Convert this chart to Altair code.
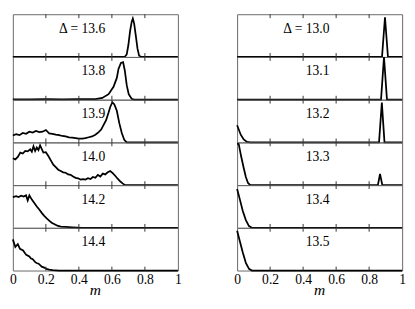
import altair as alt
import pandas as pd

FONT = "Liberation Serif, Times New Roman, serif"
W, H = 170, 44
TICKS = [0, 0.2, 0.4, 0.6, 0.8, 1]
INNER_TICKS = [0.2, 0.4, 0.6, 0.8]
LABEL_X = 0.56
X_TITLE = "m"

left_labels = ["Δ = 13.6", "13.8", "13.9", "14.0", "14.2", "14.4"]
right_labels = ["Δ = 13.0", "13.1", "13.2", "13.3", "13.4", "13.5"]

# ---- left column (Δ = 13.6 ... 14.4) ----
m_136 = [0, 0.66, 0.68, 0.69, 0.70, 0.71, 0.72, 0.727, 0.735, 0.745, 0.755, 0.765, 0.78, 1]
p_136 = [0, 0, 0.01, 0.06, 0.28, 0.60, 0.82, 0.90, 0.78, 0.50, 0.20, 0.03, 0, 0]

m_138 = [0, 0.1, 0.2, 0.3, 0.4, 0.5, 0.542, 0.58, 0.61, 0.63, 0.64, 0.655, 0.668, 0.678, 0.69, 0.702, 0.72, 0.735, 1]
p_138 = [0.01, 0.01, 0.012, 0.01, 0.012, 0.015, 0.04, 0.13, 0.30, 0.51, 0.72, 0.86, 0.88, 0.69, 0.34, 0.13, 0.02, 0, 0]

m_139 = [0, 0.02, 0.04, 0.06, 0.08, 0.10, 0.12, 0.14, 0.16, 0.18, 0.20, 0.22, 0.24, 0.26, 0.28,
         0.30, 0.32, 0.34, 0.36, 0.38, 0.40, 0.42, 0.44, 0.46, 0.48, 0.50, 0.52, 0.535, 0.55,
         0.565, 0.58, 0.59, 0.603, 0.615, 0.63, 0.645, 0.66, 0.675, 0.69, 1]
p_139 = [0.16, 0.19, 0.17, 0.22, 0.20, 0.25, 0.23, 0.27, 0.24, 0.25, 0.29, 0.21, 0.20, 0.18, 0.17,
         0.15, 0.14, 0.12, 0.11, 0.10, 0.09, 0.09, 0.10, 0.12, 0.14, 0.18, 0.24, 0.30, 0.41,
         0.52, 0.70, 0.83, 0.94, 0.89, 0.74, 0.45, 0.22, 0.06, 0, 0]

m_140 = [0, 0.015, 0.03, 0.045, 0.06, 0.075, 0.09, 0.105, 0.115, 0.125, 0.135, 0.145, 0.155, 0.165,
         0.185, 0.20, 0.215, 0.23, 0.245, 0.26, 0.275, 0.29, 0.305, 0.32, 0.335, 0.35, 0.365, 0.38,
         0.395, 0.41, 0.425, 0.44, 0.455, 0.47, 0.485, 0.50, 0.515, 0.53, 0.545, 0.56, 0.575, 0.59,
         0.605, 0.62, 0.635, 0.65, 0.665, 0.68, 1]
p_140 = [0.63, 0.60, 0.66, 0.76, 0.74, 0.80, 0.79, 0.84, 0.78, 0.91, 0.80, 0.88, 0.82, 0.93,
         0.76, 0.77, 0.68, 0.58, 0.48, 0.42, 0.36, 0.33, 0.30, 0.29, 0.25, 0.24, 0.20, 0.17,
         0.16, 0.13, 0.14, 0.13, 0.16, 0.14, 0.19, 0.17, 0.24, 0.20, 0.27, 0.25, 0.30, 0.33,
         0.28, 0.22, 0.15, 0.09, 0.04, 0, 0]

m_142 = [0, 0.02, 0.035, 0.05, 0.065, 0.08, 0.09, 0.10, 0.115, 0.13, 0.145, 0.16, 0.175, 0.19,
         0.205, 0.22, 0.235, 0.25, 0.27, 0.29, 0.32, 0.36, 0.42, 1]
p_142 = [0.72, 0.74, 0.72, 0.75, 0.73, 0.76, 0.64, 0.76, 0.66, 0.58, 0.50, 0.43, 0.35, 0.28,
         0.22, 0.17, 0.12, 0.09, 0.05, 0.03, 0.02, 0.01, 0, 0]

m_144 = [0, 0.015, 0.03, 0.043, 0.062, 0.075, 0.081, 0.10, 0.11, 0.119, 0.137, 0.147, 0.156,
         0.175, 0.19, 0.203, 0.22, 0.241, 0.28, 1]
p_144 = [0.73, 0.55, 0.62, 0.51, 0.47, 0.40, 0.37, 0.33, 0.28, 0.27, 0.19, 0.17, 0.16,
         0.09, 0.07, 0.04, 0.02, 0.01, 0, 0]

# ---- right column (Δ = 13.0 ... 13.5) ----
m_130 = [0, 0.878, 0.896, 0.914, 1]
p_130 = [0, 0, 0.93, 0, 0]

m_131 = [0, 0.872, 0.89, 0.908, 1]
p_131 = [0, 0, 1.0, 0, 0]

m_132 = [0, 0.022, 0.04, 0.06, 0.08, 0.86, 0.877, 0.893, 1]
p_132 = [0.40, 0.18, 0.07, 0.01, 0, 0, 0.93, 0, 0]

m_133 = [0, 0.01, 0.024, 0.04, 0.053, 0.066, 0.08, 0.853, 0.866, 0.88, 1]
p_133 = [0.97, 0.96, 0.68, 0.40, 0.19, 0.05, 0, 0, 0.26, 0, 0]

m_134 = [0, 0.015, 0.034, 0.053, 0.072, 0.09, 1]
p_134 = [0.91, 0.69, 0.40, 0.18, 0.04, 0, 0]

m_135 = [0, 0.015, 0.034, 0.053, 0.072, 0.09, 1]
p_135 = [0.93, 0.71, 0.43, 0.18, 0.04, 0, 0]

left_series = [(m_136, p_136), (m_138, p_138), (m_139, p_139),
               (m_140, p_140), (m_142, p_142), (m_144, p_144)]
right_series = [(m_130, p_130), (m_131, p_131), (m_132, p_132),
                (m_133, p_133), (m_134, p_134), (m_135, p_135)]

xscale = alt.Scale(domain=[0, 1], nice=False, zero=False)
yscale = alt.Scale(domain=[0, 1], nice=False)
tick_df = pd.DataFrame({"t": INNER_TICKS})
TICK_COLOR = "#333333"


def panel(label, m, p, bottom):
    df = pd.DataFrame({"m": m, "p": p})
    if bottom:
        xaxis = alt.Axis(values=TICKS, ticks=False, domain=False, grid=False, format="~g",
                         labelFlush=False, labelPadding=13, labelBaseline="alphabetic",
                         labelFont=FONT, labelFontSize=14, labelColor="black")
    else:
        xaxis = None

    def xenc(field):
        if xaxis is None:
            return alt.X(field, scale=xscale, axis=None)
        return alt.X(field, scale=xscale, axis=xaxis, title=None)

    line = alt.Chart(df).mark_line(color="black", strokeWidth=1.8).encode(
        x=xenc("m:Q"),
        y=alt.Y("p:Q", scale=yscale, axis=None),
    )
    top_ticks = alt.Chart(tick_df).mark_rule(color=TICK_COLOR, strokeWidth=1).encode(
        x=xenc("t:Q"), y=alt.value(0), y2=alt.value(4))
    bot_ticks = alt.Chart(tick_df).mark_rule(color=TICK_COLOR, strokeWidth=1).encode(
        x=xenc("t:Q"), y=alt.value(H - 4), y2=alt.value(H))
    tdf = pd.DataFrame({"lx": [LABEL_X], "t": [label]})
    text = alt.Chart(tdf).mark_text(align="right", baseline="alphabetic", font=FONT,
                                    fontSize=14, color="black").encode(
        x=xenc("lx:Q"),
        y=alt.value(19),
        text="t:N",
    )
    layers = [line, top_ticks, bot_ticks, text]
    if bottom:
        mdf = pd.DataFrame({"mx": [0.5], "t": [X_TITLE]})
        mtext = alt.Chart(mdf).mark_text(align="center", baseline="alphabetic", font=FONT,
                                         fontSize=16, fontStyle="italic", color="black").encode(
            x=xenc("mx:Q"),
            y=alt.value(H + 25),
            text="t:N",
        )
        layers.append(mtext)
    return alt.layer(*layers).properties(width=W, height=H)


def column(labels, series):
    panels = [panel(lab, s[0], s[1], i == len(labels) - 1)
              for i, (lab, s) in enumerate(zip(labels, series))]
    return alt.vconcat(*panels, spacing=0, bounds="flush")


chart = alt.hconcat(column(left_labels, left_series), column(right_labels, right_series),
                    spacing=51).properties(
    padding={"left": 0, "top": 0, "right": 0, "bottom": 0}
).configure_view(
    stroke="#666666", strokeWidth=1
)

chart.save("out.html", embed_options={"renderer": "svg", "actions": False})
